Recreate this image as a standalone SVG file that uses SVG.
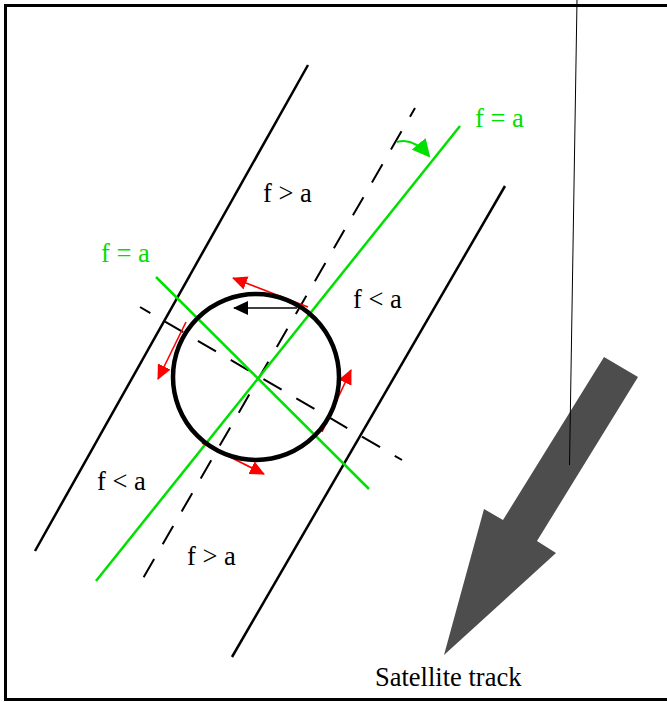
<svg xmlns="http://www.w3.org/2000/svg" width="667" height="702" viewBox="0 0 667 702">
<style>
.blk{stroke:#000;stroke-width:2.5;fill:none}
.grn{stroke:#00e000;stroke-width:2.5;fill:none}
.dsh{stroke:#000;stroke-width:2;fill:none;stroke-dasharray:21 17}
.red{stroke:#ff0000;stroke-width:1.6;fill:none;marker-end:url(#rh)}
.t{font-family:"Liberation Serif","Times New Roman",serif;font-size:26.5px;fill:#000}
.tg{fill:#00e000}
</style>
<defs>
<marker id="rh" markerWidth="16" markerHeight="14" refX="14" refY="7" orient="auto" markerUnits="userSpaceOnUse"><path d="M0,0 L15,7 L0,14 Z" fill="#ff0000"/></marker>
<marker id="bh" markerWidth="16" markerHeight="14" refX="14" refY="7" orient="auto" markerUnits="userSpaceOnUse"><path d="M0,0 L15,7 L0,14 Z" fill="#000"/></marker>
<marker id="gh" markerWidth="20" markerHeight="18" refX="16" refY="9" orient="auto" markerUnits="userSpaceOnUse"><path d="M0,0 L18,9 L0,18 Z" fill="#00e000"/></marker>
</defs>
<rect x="5.5" y="5.5" width="670" height="694" fill="#fff" stroke="#000" stroke-width="3"/>
<g id="connectors">
<line class="blk" x1="308" y1="65" x2="35" y2="551"/>
<line class="blk" x1="505" y1="186" x2="232" y2="657"/>
<line class="dsh" x1="415" y1="108" x2="142" y2="580" stroke-dashoffset="11"/>
<line class="dsh" x1="140" y1="307" x2="402" y2="460" stroke-dashoffset="9"/>
<line class="grn" x1="460" y1="126" x2="96" y2="581"/>
<line class="grn" x1="156" y1="277" x2="369" y2="489"/>
<line class="red" x1="308" y1="307" x2="233" y2="278"/>
<line class="red" x1="186" y1="322" x2="158" y2="379"/>
<line class="red" x1="322" y1="432" x2="351" y2="370"/>
<line class="red" x1="202" y1="443" x2="264" y2="474"/>
<line x1="297" y1="308" x2="234" y2="308" stroke="#000" stroke-width="1.6" marker-end="url(#bh)"/>
<path d="M397,142 Q413,137 429,156" stroke="#00e000" stroke-width="2" fill="none" marker-end="url(#gh)"/>
</g>
<g id="circle"><circle cx="256" cy="377" r="83" fill="none" stroke="#000" stroke-width="4.5"/></g>
<g id="track"><polygon points="604,357 638,377 537,541 556,553 444,655 484,509 503,520" fill="#4d4d4d"/>
<line x1="577" y1="0" x2="569.5" y2="465" stroke="#000" stroke-width="1"/></g>
<g id="labels">
<text class="t" x="263" y="202">f &gt; a</text>
<text class="t" x="353" y="308">f &lt; a</text>
<text class="t" x="97" y="490">f &lt; a</text>
<text class="t" x="187" y="565">f &gt; a</text>
<text class="t tg" x="101" y="262">f = a</text>
<text class="t tg" x="475" y="127">f = a</text>
<text class="t" x="375" y="686">Satellite track</text>
</g>
</svg>
